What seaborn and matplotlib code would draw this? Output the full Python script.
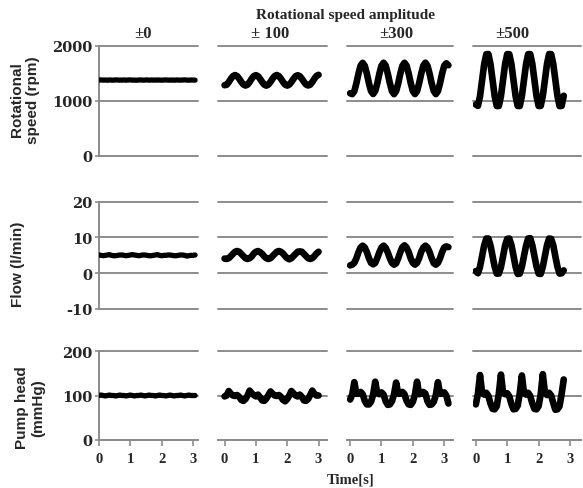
import numpy as np
import pandas as pd
import matplotlib
matplotlib.use("Agg")
import matplotlib.pyplot as plt
import seaborn as sns

# ---------------------------------------------------------------------------
# data read off the reference (sampled every 1/15 s)
# ---------------------------------------------------------------------------
sample_rate = 15
amplitudes = ["±0", "± 100", "±300", "±500"]
row_labels = ["Rotational\nspeed (rpm)", "Flow (l/min)", "Pump head\n(mmHg)"]

speed_0 = [1375, 1378, 1374, 1376, 1372, 1377, 1375, 1373, 1378, 1376,
           1374, 1375, 1377, 1373, 1376, 1378, 1374, 1375, 1372, 1376,
           1377, 1374, 1375, 1378, 1373, 1376, 1375, 1374, 1377, 1375,
           1373, 1376, 1378, 1374, 1375, 1376, 1372, 1377, 1375, 1374,
           1376, 1378, 1375, 1373, 1376, 1375, 1374]
speed_100 = [1282, 1290, 1338, 1398, 1446, 1466, 1448, 1400, 1342, 1294,
             1276, 1292, 1340, 1400, 1448, 1464, 1446, 1398, 1340, 1292,
             1274, 1294, 1342, 1401, 1449, 1467, 1447, 1399, 1341, 1293,
             1275, 1293, 1339, 1397, 1445, 1463, 1446, 1400, 1343, 1295,
             1277, 1291, 1340, 1399, 1450, 1470]
speed_300 = [1135,
             1120, 1172, 1318, 1494, 1637, 1688, 1635, 1492, 1316, 1175,
             1122, 1175, 1317, 1495, 1636, 1690, 1637, 1493, 1318, 1173,
             1119, 1174, 1316, 1492, 1635, 1689, 1636, 1494, 1317, 1174,
             1121, 1173, 1318, 1493, 1637, 1691, 1634, 1492, 1316, 1176,
             1120, 1175, 1317, 1494, 1636, 1680, 1645]
speed_500 = [930, 906, 1082, 1374, 1665, 1845, 1848, 1667, 1376, 1085,
             903, 905, 1083, 1376, 1667, 1847, 1845, 1665, 1374, 1083,
             905, 903, 1085, 1375, 1664, 1846, 1847, 1668, 1375, 1084,
             904, 906, 1084, 1373, 1666, 1848, 1846, 1666, 1377, 1085,
             902, 905, 1090]

flow_0 = [5.1, 5.0, 4.9, 5.0, 5.1, 5.2, 5.0, 4.9, 4.9, 5.0,
          5.1, 5.1, 5.0, 4.9, 5.0, 5.1, 5.2, 5.1, 5.0, 4.9,
          5.0, 5.1, 5.1, 5.0, 4.9, 4.9, 5.0, 5.1, 5.2, 5.0,
          4.9, 5.0, 5.0, 5.1, 5.1, 5.0, 4.9, 4.9, 5.0, 5.1,
          5.1, 5.0, 4.8, 4.9, 5.0, 5.0, 5.1]
flow_100 = [4.1, 4.0, 4.2, 4.8, 5.4, 6.0, 6.2, 6.0, 5.4, 4.8,
            4.2, 4.0, 4.2, 4.7, 5.5, 6.0, 6.2, 5.9, 5.4, 4.7,
            4.2, 4.0, 4.2, 4.8, 5.4, 6.0, 6.2, 6.0, 5.5, 4.8,
            4.2, 3.9, 4.2, 4.8, 5.4, 6.0, 6.1, 6.0, 5.4, 4.8,
            4.2, 4.0, 4.2, 4.8, 5.5, 6.0]
flow_300 = [2.2,
            2.4, 2.9, 4.2, 5.9, 7.2, 7.7, 7.2, 5.9, 4.2, 2.9,
            2.5, 2.9, 4.3, 5.9, 7.2, 7.7, 7.1, 5.8, 4.2, 2.9,
            2.4, 2.8, 4.2, 5.9, 7.3, 7.8, 7.2, 5.9, 4.1, 2.9,
            2.4, 2.9, 4.2, 6.0, 7.2, 7.7, 7.2, 5.9, 4.2, 2.8,
            2.4, 2.9, 4.2, 5.9, 7.2, 7.5, 7.3]
flow_500 = [0.6, 0.0, 1.8, 4.8, 7.8, 9.7, 9.7, 7.8, 4.8, 1.8,
            -0.1, -0.1, 1.7, 4.7, 7.8, 9.6, 9.7, 7.9, 4.9, 1.8,
            -0.2, -0.1, 1.8, 4.8, 7.7, 9.7, 9.8, 7.8, 4.8, 1.9,
            -0.1, -0.2, 1.8, 4.8, 7.8, 9.7, 9.6, 7.8, 4.7, 1.8,
            -0.1, 0.0, 0.8]

head_0 = [100, 101, 100, 99, 100, 101, 100, 100, 99, 100,
          101, 100, 100, 99, 100, 101, 100, 99, 100, 100,
          101, 100, 99, 100, 101, 100, 100, 99, 100, 101,
          100, 100, 99, 100, 101, 100, 99, 100, 100, 101,
          100, 99, 100, 101, 100, 100, 100]
head_100 = [98, 100,
            110, 104, 100, 99, 101, 97, 90, 88, 92, 100,
            111, 105, 101, 98, 102, 96, 89, 88, 93, 101,
            109, 104, 100, 99, 101, 97, 90, 87, 92, 100,
            110, 105, 100, 98, 102, 97, 89, 88, 92, 101,
            111, 104, 100, 100]
head_300 = [91, 102,
            130, 104, 104, 108, 103, 88, 80, 80, 86, 102,
            131, 105, 103, 107, 102, 87, 79, 80, 87, 103,
            129, 104, 104, 108, 103, 88, 80, 79, 86, 102,
            131, 103, 104, 108, 104, 87, 79, 80, 86, 101,
            130, 104, 104, 107, 100, 82]
head_500 = [80, 104,
            146, 106, 102, 106, 99, 82, 70, 69, 76, 104,
            147, 107, 103, 105, 98, 81, 69, 70, 77, 105,
            145, 106, 102, 106, 99, 82, 70, 69, 76, 103,
            148, 107, 101, 106, 100, 83, 68, 69, 76, 104,
            136]

yticks_speed = [0, 1000, 2000]
yticks_flow = [-10, 0, 10, 20]
yticks_head = [0, 100, 200]
xticks_time = [0, 1, 2, 3]

series = [[speed_0, speed_100, speed_300, speed_500],
          [flow_0, flow_100, flow_300, flow_500],
          [head_0, head_100, head_300, head_500]]
row_ticks = [yticks_speed, yticks_flow, yticks_head]

records = []
for r, row in enumerate(series):
    for c, vals in enumerate(row):
        for k, v in enumerate(vals):
            records.append({'row': r, 'col': c, 'time': k / sample_rate, 'value': v})
df = pd.DataFrame(records)

# ---------------------------------------------------------------------------
# layout (pixels of the 583x489 picture)
# ---------------------------------------------------------------------------
W, H = 583, 489
col_px = [(99, 198), (218, 327), (347, 453), (473, 581)]
col_xlim = [(0, 3.16), (-0.21, 3.27), (-0.1, 3.28), (-0.09, 3.35)]
row_px = [(46.7, 156.7), (202.7, 310), (352, 441)]
grid_c = '#8c8c8c'

sns.set_style('white')
plt.rcParams['font.family'] = ['Liberation Serif', 'DejaVu Serif']
plt.rcParams['axes.unicode_minus'] = False

fig = plt.figure(figsize=(W / 100, H / 100), dpi=100)

for r in range(3):
    for c in range(4):
        x0, x1 = col_px[c]
        y0, y1 = row_px[r]
        ax = fig.add_axes([x0 / W, 1 - y1 / H, (x1 - x0) / W, (y1 - y0) / H])
        ticks = row_ticks[r]
        for v in ticks:
            ax.axhline(v, color=grid_c, lw=1.4, zorder=0, clip_on=False)
        sub = df[(df['row'] == r) & (df['col'] == c)]
        sns.lineplot(data=sub, x='time', y='value', ax=ax, color='black',
                     lw=3.8 if c == 0 else 4.8, sort=False, estimator=None,
                     solid_joinstyle='round', solid_capstyle='round', zorder=3)
        ax.set_xlim(col_xlim[c])
        ax.set_ylim(ticks[0], ticks[-1])
        ax.set_xlabel('')
        ax.set_ylabel('')
        for s in ax.spines.values():
            s.set_visible(False)
        if c == 0:
            ax.spines['left'].set_visible(True)
            ax.spines['left'].set_color(grid_c)
            ax.spines['left'].set_linewidth(1.4)
            ax.set_yticks(ticks)
            ax.tick_params(axis='y', left=True, length=3, width=1.2,
                           color=grid_c, pad=1.5)
            for lbl in ax.get_yticklabels():
                lbl.set_fontfamily('DejaVu Serif')
                lbl.set_fontweight('bold')
                lbl.set_fontsize(10.5)
        else:
            ax.set_yticks([])
        if r == 2:
            ax.spines['bottom'].set_visible(True)
            ax.spines['bottom'].set_color(grid_c)
            ax.spines['bottom'].set_linewidth(1.4)
            ax.set_xticks(xticks_time)
            ax.tick_params(axis='x', bottom=True, length=4, width=1.2,
                           color=grid_c, pad=5)
            for lbl in ax.get_xticklabels():
                lbl.set_fontweight('bold')
                lbl.set_fontsize(10.5)
        else:
            ax.set_xticks([])
        ax.patch.set_alpha(0)

fig.text(346 / W, 1 - 15.7 / H, 'Rotational speed amplitude', ha='center',
         va='center', fontsize=11, fontweight='bold')
for xc, lab in zip([143, 270, 396, 512], amplitudes):
    fig.text(xc / W, 1 - 34.3 / H, lab, ha='center', va='center',
             fontsize=12, fontweight='bold')

for (xc, yc), lab in zip([(25, 100), (18, 264), (30, 408)], row_labels):
    fig.text(xc / W, 1 - yc / H, lab, ha='center', va='center', rotation=90,
             fontsize=11, fontweight='bold', family='Liberation Sans',
             multialignment='center', linespacing=1.15)

fig.text(351 / W, 1 - 480 / H, 'Time[s]', ha='center', va='center',
         fontsize=10.5, fontweight='bold')

fig.savefig('out.png', dpi=100)
